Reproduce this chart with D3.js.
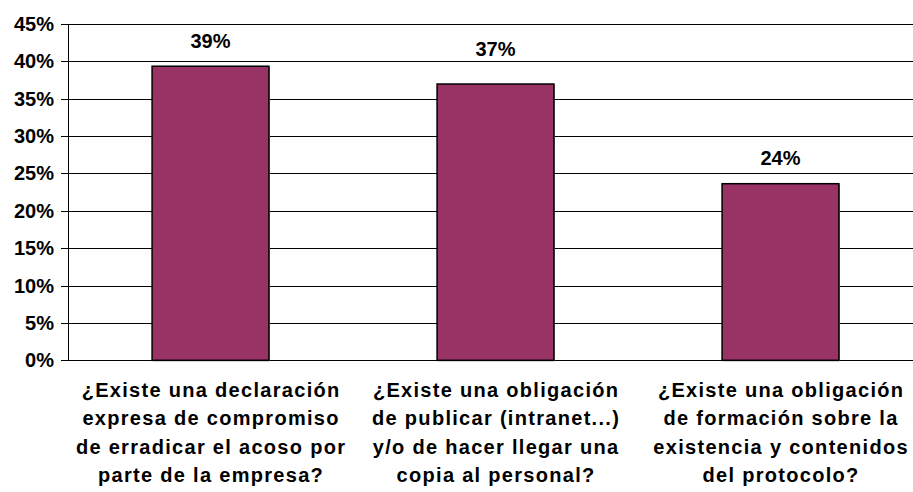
<!DOCTYPE html>
<html>
<head>
<meta charset="utf-8">
<script src="https://d3js.org/d3.v7.min.js"></script>
<style>
  body { margin: 0; background: #fff; }
  text { font-family: "Liberation Sans", Arial, sans-serif; font-weight: bold; fill: #000; }
</style>
</head>
<body>
<div id="chart"></div>
<script>
const categories = [
  ["¿Existe una declaración", "expresa de compromiso", "de erradicar el acoso por", "parte de la empresa?"],
  ["¿Existe una obligación", "de publicar (intranet...)", "y/o de hacer llegar una", "copia al personal?"],
  ["¿Existe una obligación", "de formación sobre la", "existencia y contenidos", "del protocolo?"]
];
const values = [39.35, 36.97, 23.63];
const valueLabels = ["39%", "37%", "24%"];
const yTicks = [0, 5, 10, 15, 20, 25, 30, 35, 40, 45];

const W = 913, H = 492;
const mLeft = 68, mTop = 24, plotH = 336.3, plotW = 855;
// label gap above bar (the middle one sits a bit higher in the original)
const labelGap = [18.5, 28, 18.5];

const svg = d3.select("#chart").append("svg")
  .attr("width", W)
  .attr("height", H);

const x = d3.scaleBand()
  .domain(d3.range(categories.length))
  .range([mLeft, mLeft + plotW])
  .paddingInner(0.59)
  .paddingOuter(0.295);

const y = d3.scaleLinear()
  .domain([0, 45])
  .range([mTop + plotH, mTop]);

// gridlines + tick marks
svg.append("g")
  .selectAll("line")
  .data(yTicks)
  .enter()
  .append("line")
  .attr("x1", mLeft - 7)
  .attr("x2", W)
  .attr("y1", d => Math.round(y(d)) + 0.5)
  .attr("y2", d => Math.round(y(d)) + 0.5)
  .attr("stroke", "#000")
  .attr("stroke-width", 1);

// y axis line
svg.append("line")
  .attr("x1", mLeft + 0.5).attr("x2", mLeft + 0.5)
  .attr("y1", Math.round(y(45)))
  .attr("y2", Math.round(y(0)) + 1)
  .attr("stroke", "#000");

// tick labels
svg.append("g")
  .selectAll("text")
  .data(yTicks)
  .enter()
  .append("text")
  .attr("x", 54)
  .attr("y", d => y(d) + 7)
  .attr("text-anchor", "end")
  .style("font-size", "20px")
  .text(d => d + "%");

// bar shadows
svg.append("g")
  .selectAll("rect")
  .data(values)
  .enter()
  .append("rect")
  .attr("x", (d, i) => x(i) + 1)
  .attr("y", d => y(d) + 1)
  .attr("width", x.bandwidth())
  .attr("height", d => y(0) - y(d))
  .attr("fill", "#9a9a9a");

// bars
svg.append("g")
  .selectAll("rect")
  .data(values)
  .enter()
  .append("rect")
  .attr("x", (d, i) => x(i))
  .attr("y", d => y(d))
  .attr("width", x.bandwidth())
  .attr("height", d => y(0) - y(d))
  .attr("fill", "#993366")
  .attr("stroke", "#000")
  .attr("stroke-width", 1.5);

// value labels
svg.append("g")
  .selectAll("text")
  .data(values)
  .enter()
  .append("text")
  .attr("x", (d, i) => x(i) + x.bandwidth() / 2)
  .attr("y", (d, i) => y(d) - labelGap[i])
  .attr("text-anchor", "middle")
  .style("font-size", "20px")
  .text((d, i) => valueLabels[i]);

// category labels
const cat = svg.append("g")
  .selectAll("text")
  .data(categories)
  .enter()
  .append("text")
  .attr("text-anchor", "middle")
  .style("font-size", "20px")
  .style("letter-spacing", "1.3px")
  .attr("x", (d, i) => x(i) + x.bandwidth() / 2 + 0.6)
  .attr("y", 397);

cat.selectAll("tspan")
  .data(d => d)
  .enter()
  .append("tspan")
  .attr("x", function() { return d3.select(this.parentNode).attr("x"); })
  .attr("dy", (d, j) => j === 0 ? 0 : 28.3)
  .text(d => d);
</script>
</body>
</html>
